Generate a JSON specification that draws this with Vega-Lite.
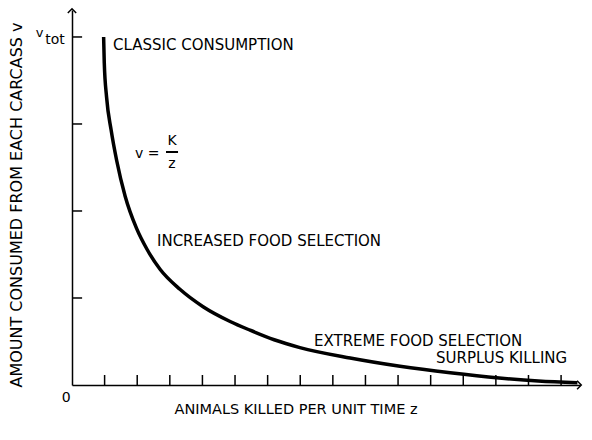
{
  "$schema": "https://vega.github.io/schema/vega-lite/v6.json",
  "width": 508,
  "height": 375,
  "autosize": "none",
  "padding": {"left": 72, "top": 10, "right": 12, "bottom": 55},
  "background": "white",
  "config": {"view": {"stroke": null}, "font": "DejaVu Sans"},
  "datasets": {
    "curve": [
      {"z": 0.97, "v": 4.0},
      {"z": 0.99, "v": 3.7},
      {"z": 1.06, "v": 3.31},
      {"z": 1.2, "v": 2.93},
      {"z": 1.37, "v": 2.58},
      {"z": 1.63, "v": 2.17},
      {"z": 1.98, "v": 1.8},
      {"z": 2.3, "v": 1.56},
      {"z": 2.7, "v": 1.33},
      {"z": 3.31, "v": 1.1},
      {"z": 4.02, "v": 0.9},
      {"z": 4.85, "v": 0.73},
      {"z": 5.46, "v": 0.63},
      {"z": 6.2, "v": 0.52},
      {"z": 6.99, "v": 0.43},
      {"z": 8.53, "v": 0.31},
      {"z": 10.06, "v": 0.215},
      {"z": 11.6, "v": 0.14},
      {"z": 13.1, "v": 0.08},
      {"z": 14.3, "v": 0.045},
      {"z": 15.5, "v": 0.025}
    ],
    "xTicks": [
      {"z": 1}, {"z": 2}, {"z": 3}, {"z": 4}, {"z": 5},
      {"z": 6}, {"z": 7}, {"z": 8}, {"z": 9}, {"z": 10},
      {"z": 11}, {"z": 12}, {"z": 13}, {"z": 14}, {"z": 15}
    ],
    "yTicks": [
      {"v": 1}, {"v": 2}, {"v": 3}, {"v": 4}
    ],
    "leftLabels": [
      {"z": 1.258, "v": 3.908, "t": "CLASSIC CONSUMPTION"},
      {"z": 2.607, "v": 1.655, "t": "INCREASED FOOD SELECTION"},
      {"z": 7.423, "v": 0.506, "t": "EXTREME FOOD SELECTION"},
      {"z": 11.166, "v": 0.31, "t": "SURPLUS KILLING"}
    ],
    "formula": [
      {"z": 1.933, "v": 2.655, "t": "v ="}
    ],
    "centerLabels": [
      {"z": 3.067, "v": 2.805, "t": "K"},
      {"z": 3.067, "v": 2.54, "t": "z"},
      {"z": -0.18, "v": -0.149, "t": "0"},
      {"z": -0.52, "v": 3.966, "t": "tot"}
    ],
    "vtot": [
      {"z": -0.997, "v": 4.046, "t": "v"}
    ],
    "xTitle": [
      {"z": 6.87, "v": -0.287, "t": "ANIMALS KILLED PER UNIT  TIME  z"}
    ],
    "yTitle": [
      {"z": -1.687, "v": 2.069, "t": "AMOUNT CONSUMED FROM EACH CARCASS  v"}
    ],
    "bar": [
      {"z": 2.883, "z2": 3.252, "v": 2.678}
    ],
    "arrowUp": [{"z": 0, "v": 4.31}],
    "arrowRight": [{"z": 15.58, "v": 0}]
  },
  "layer": [
    {
      "data": {"name": "curve"},
      "mark": {"type": "line", "interpolate": "monotone", "color": "black", "strokeWidth": 3.5, "strokeCap": "butt"},
      "encoding": {
        "x": {
          "field": "z", "type": "quantitative",
          "scale": {"domain": [0, 15.58], "nice": false, "zero": false},
          "axis": {
            "labels": false, "ticks": false, "title": null, "grid": false,
            "domainColor": "black", "domainWidth": 1.5
          }
        },
        "y": {
          "field": "v", "type": "quantitative",
          "scale": {"domain": [0, 4.31], "nice": false, "zero": false},
          "axis": {
            "labels": false, "ticks": false, "title": null, "grid": false,
            "domainColor": "black", "domainWidth": 1.5
          }
        }
      }
    },
    {
      "data": {"name": "xTicks"},
      "mark": {"type": "rule", "color": "black", "strokeWidth": 1.5},
      "encoding": {
        "x": {"field": "z", "type": "quantitative"},
        "y": {"datum": 0, "type": "quantitative"},
        "y2": {"datum": 0.115}
      }
    },
    {
      "data": {"name": "yTicks"},
      "mark": {"type": "rule", "color": "black", "strokeWidth": 1.5},
      "encoding": {
        "y": {"field": "v", "type": "quantitative"},
        "x": {"datum": 0, "type": "quantitative"},
        "x2": {"datum": 0.31}
      }
    },
    {
      "data": {"name": "leftLabels"},
      "mark": {"type": "text", "align": "left", "baseline": "middle", "fontSize": 15, "font": "DejaVu Sans", "color": "black"},
      "encoding": {
        "x": {"field": "z", "type": "quantitative"},
        "y": {"field": "v", "type": "quantitative"},
        "text": {"field": "t"}
      }
    },
    {
      "data": {"name": "formula"},
      "mark": {"type": "text", "align": "left", "baseline": "middle", "fontSize": 14, "font": "DejaVu Sans", "color": "black"},
      "encoding": {
        "x": {"field": "z", "type": "quantitative"},
        "y": {"field": "v", "type": "quantitative"},
        "text": {"field": "t"}
      }
    },
    {
      "data": {"name": "centerLabels"},
      "mark": {"type": "text", "align": "center", "baseline": "middle", "fontSize": 14, "font": "DejaVu Sans", "color": "black"},
      "encoding": {
        "x": {"field": "z", "type": "quantitative"},
        "y": {"field": "v", "type": "quantitative"},
        "text": {"field": "t"}
      }
    },
    {
      "data": {"name": "vtot"},
      "mark": {"type": "text", "align": "center", "baseline": "middle", "fontSize": 13, "font": "DejaVu Sans", "color": "black"},
      "encoding": {
        "x": {"field": "z", "type": "quantitative"},
        "y": {"field": "v", "type": "quantitative"},
        "text": {"field": "t"}
      }
    },
    {
      "data": {"name": "xTitle"},
      "mark": {"type": "text", "align": "center", "baseline": "middle", "fontSize": 14.5, "font": "DejaVu Sans", "color": "black"},
      "encoding": {
        "x": {"field": "z", "type": "quantitative"},
        "y": {"field": "v", "type": "quantitative"},
        "text": {"field": "t"}
      }
    },
    {
      "data": {"name": "yTitle"},
      "mark": {"type": "text", "align": "center", "baseline": "middle", "angle": 270, "fontSize": 16, "font": "DejaVu Sans", "color": "black"},
      "encoding": {
        "x": {"field": "z", "type": "quantitative"},
        "y": {"field": "v", "type": "quantitative"},
        "text": {"field": "t"}
      }
    },
    {
      "data": {"name": "bar"},
      "mark": {"type": "rule", "color": "black", "strokeWidth": 2},
      "encoding": {
        "x": {"field": "z", "type": "quantitative"},
        "x2": {"field": "z2"},
        "y": {"field": "v", "type": "quantitative"}
      }
    },
    {
      "data": {"name": "arrowUp"},
      "mark": {"type": "point", "shape": "M-1,0.7L0,-0.3L1,0.7", "filled": false, "stroke": "black", "strokeWidth": 1.5, "size": 70, "opacity": 1},
      "encoding": {
        "x": {"field": "z", "type": "quantitative"},
        "y": {"field": "v", "type": "quantitative"}
      }
    },
    {
      "data": {"name": "arrowRight"},
      "mark": {"type": "point", "shape": "M-0.7,-1L0.3,0L-0.7,1", "filled": false, "stroke": "black", "strokeWidth": 1.5, "size": 70, "opacity": 1},
      "encoding": {
        "x": {"field": "z", "type": "quantitative"},
        "y": {"field": "v", "type": "quantitative"}
      }
    }
  ]
}
